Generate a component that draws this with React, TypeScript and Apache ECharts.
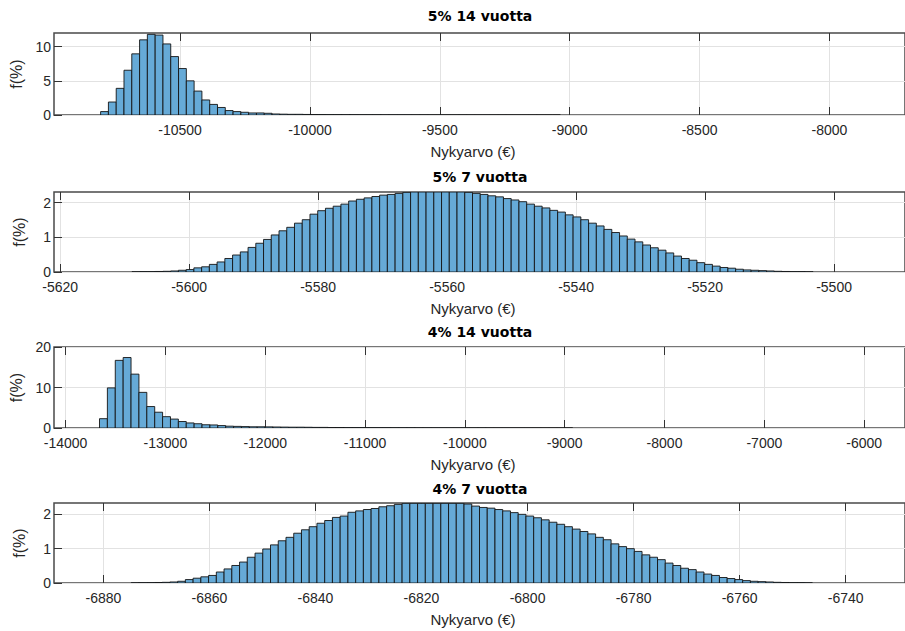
import React, { useEffect, useRef } from "react";
import * as echarts from "echarts";

// ---------- texts ----------
const panelTitles = ["5% 14 vuotta", "5% 7 vuotta", "4% 14 vuotta", "4% 7 vuotta"];
const xAxisName = "Nykyarvo (€)";
const yAxisName = "f(%)";

// ---------- panel 1: 5% 14 vuotta ----------
const p1BinStart = -10806;
const p1BinWidth = 30;
const p1Heights = [
  0.5, 1.9, 3.9, 6.55, 8.95, 11.0, 11.8, 11.7, 10.4, 8.55, 6.8, 5.0, 3.5, 2.2, 1.55, 1.1, 0.65, 0.5, 0.4,
  0.3, 0.3, 0.25, 0.15, 0.12, 0.1, 0.1, 0.08, 0.07, 0.06, 0.05, 0.05, 0.04, 0.04, 0.03, 0.03, 0.03, 0.02,
  0.02, 0.02, 0.02, 0.015, 0.015, 0.01, 0.01, 0.01, 0.01, 0.01, 0.008, 0.008, 0.006, 0.005, 0.005, 0.005,
  0.004, 0.004, 0.003, 0.003, 0.002, 0.002,
];
const p1XTicks = [-10500, -10000, -9500, -9000, -8500, -8000];
const p1YTicks = [0, 5, 10];
const p1XMin = -10985.5;
const p1XMax = -7709;
const p1YMax = 12;

// ---------- panel 2: 5% 7 vuotta ----------
const p2BinStart = -5608.86;
const p2BinWidth = 1.2;
const p2Heights = [
  0.005, 0.01, 0.01, 0.015, 0.02, 0.03, 0.05,
  0.07, 0.12, 0.15, 0.22, 0.29, 0.39, 0.49, 0.58, 0.71, 0.83, 0.94, 1.07, 1.19, 1.29, 1.41, 1.51, 1.67,
  1.77, 1.84, 1.9, 1.96, 2.05, 2.1, 2.14, 2.18, 2.22, 2.24, 2.27, 2.3,
  2.31, 2.31, 2.31, 2.31, 2.31, 2.31, 2.31,
  2.3, 2.27, 2.24, 2.2, 2.17, 2.12, 2.08, 2.03, 1.96, 1.9, 1.85, 1.78, 1.73, 1.65, 1.59, 1.51, 1.41,
  1.33, 1.23, 1.14, 1.04, 0.95, 0.87, 0.78, 0.7, 0.63, 0.55, 0.46, 0.39, 0.34, 0.27, 0.22, 0.17, 0.13,
  0.11, 0.08, 0.06, 0.05, 0.04, 0.03, 0.02, 0.015, 0.01, 0.01, 0.005,
];
const p2XTicks = [-5620, -5600, -5580, -5560, -5540, -5520, -5500];
const p2YTicks = [0, 1, 2];
const p2XMin = -5620.95;
const p2XMax = -5489.0;
const p2YMax = 2.31;

// ---------- panel 3: 4% 14 vuotta ----------
const p3BinStart = -13660;
const p3BinWidth = 79;
const p3Heights = [
  2.3, 9.9, 16.7, 17.4, 13.3, 8.8, 5.3, 3.9, 2.8, 2.2, 1.6, 1.25, 1.05, 0.8, 0.75, 0.6, 0.45, 0.4, 0.35,
  0.3, 0.3, 0.28, 0.25, 0.22, 0.2, 0.2, 0.18, 0.15, 0.15, 0.12, 0.12, 0.1, 0.1, 0.09, 0.08, 0.07, 0.07,
  0.06, 0.05, 0.05, 0.04, 0.04, 0.035, 0.03, 0.03, 0.025, 0.02, 0.02, 0.02, 0.015, 0.015, 0.01, 0.01,
  0.01, 0.01, 0.008, 0.006, 0.005, 0.005, 0.004,
];
const p3XTicks = [-14000, -13000, -12000, -11000, -10000, -9000, -8000, -7000, -6000];
const p3YTicks = [0, 10, 20];
const p3XMin = -14115.8;
const p3XMax = -5591;
const p3YMax = 20;

// ---------- panel 4: 4% 7 vuotta ----------
const p4BinStart = -6874.76;
const p4BinWidth = 1.46;
const p4Heights = [
  0.005, 0.008, 0.01, 0.015, 0.02, 0.03,
  0.05, 0.1, 0.14, 0.18, 0.22, 0.32, 0.41, 0.51, 0.61, 0.75, 0.87, 0.99, 1.11, 1.23, 1.33, 1.45, 1.55,
  1.64, 1.74, 1.82, 1.91, 1.95, 2.06, 2.1, 2.14, 2.17, 2.22, 2.25, 2.29,
  2.32, 2.32, 2.32, 2.32, 2.32, 2.32, 2.32, 2.32,
  2.3, 2.24, 2.2, 2.18, 2.14, 2.1, 2.05, 2.0, 1.95, 1.9, 1.84, 1.77, 1.71, 1.64, 1.57, 1.5, 1.43, 1.33,
  1.26, 1.14, 1.06, 1.0, 0.92, 0.82, 0.75, 0.68, 0.58, 0.51, 0.43, 0.39, 0.32, 0.26, 0.22, 0.16, 0.13,
  0.1, 0.07, 0.05, 0.04, 0.03, 0.02, 0.015, 0.01, 0.01, 0.005,
];
const p4XTicks = [-6880, -6860, -6840, -6820, -6800, -6780, -6760, -6740];
const p4YTicks = [0, 1, 2];
const p4XMin = -6889.32;
const p4XMax = -6728.8;
const p4YMax = 2.33;

// ---------- layout ----------
const gridLeft = 54;
const gridWidth = 861;
const gridTops = [33, 192, 347, 503];
const gridHeights = [82, 80, 81, 80];
const titleCenterX = 480;
const titleTops = [9, 170, 325, 482];

const FONT = "'Liberation Sans', Arial, Helvetica, sans-serif";
const TITLE_FONT = "'DejaVu Sans', 'Liberation Sans', Arial, sans-serif";
const TEXT = "#262626";
const BAR_FILL = "#66AAD7";
const BAR_EDGE = "#141414";

function binsToData(start: number, width: number, heights: number[]) {
  return heights.map((h, i) => [start + i * width, start + (i + 1) * width, h]);
}

const panels = [
  { start: p1BinStart, width: p1BinWidth, heights: p1Heights, xTicks: p1XTicks, yTicks: p1YTicks, xMin: p1XMin, xMax: p1XMax, yMax: p1YMax },
  { start: p2BinStart, width: p2BinWidth, heights: p2Heights, xTicks: p2XTicks, yTicks: p2YTicks, xMin: p2XMin, xMax: p2XMax, yMax: p2YMax },
  { start: p3BinStart, width: p3BinWidth, heights: p3Heights, xTicks: p3XTicks, yTicks: p3YTicks, xMin: p3XMin, xMax: p3XMax, yMax: p3YMax },
  { start: p4BinStart, width: p4BinWidth, heights: p4Heights, xTicks: p4XTicks, yTicks: p4YTicks, xMin: p4XMin, xMax: p4XMax, yMax: p4YMax },
];

function buildOption() {
  const grid: any[] = [];
  const xAxis: any[] = [];
  const yAxis: any[] = [];
  const series: any[] = [];
  const title: any[] = [];
  panels.forEach((p, i) => {
    grid.push({
      left: gridLeft,
      top: gridTops[i],
      width: gridWidth,
      height: gridHeights[i],
      show: true,
      borderColor: "#4a4a4a",
      borderWidth: 1.5,
      backgroundColor: "#ffffff",
      containLabel: false,
    });
    title.push({
      text: panelTitles[i],
      left: titleCenterX,
      top: titleTops[i],
      textAlign: "center",
      padding: 0,
      textStyle: { fontFamily: TITLE_FONT, fontSize: 14, fontWeight: "bold", color: "#000" },
    });
    xAxis.push({
      type: "value",
      gridIndex: i,
      position: "bottom",
      min: p.xMin,
      max: p.xMax,
      axisLine: { show: false },
      axisTick: { show: true, inside: true, length: 8, customValues: p.xTicks, lineStyle: { color: "#333", width: 1 } },
      axisLabel: {
        show: true,
        customValues: p.xTicks,
        formatter: (v: number) => String(v),
        fontFamily: FONT,
        fontSize: 14,
        color: TEXT,
        margin: 8,
      },
      splitLine: { show: true, lineStyle: { color: "#e2e2e2", width: 1 } },
      name: xAxisName,
      nameLocation: "middle",
      nameGap: 29,
      nameTextStyle: { fontFamily: FONT, fontSize: 15, color: TEXT, padding: [0, 13, 0, 0] },
    });
    xAxis.push({
      type: "value",
      gridIndex: i,
      position: "top",
      min: p.xMin,
      max: p.xMax,
      axisLine: { show: false },
      axisTick: { show: true, inside: true, length: 8, customValues: p.xTicks, lineStyle: { color: "#333", width: 1 } },
      axisLabel: { show: false },
      splitLine: { show: false },
    });
    yAxis.push({
      type: "value",
      gridIndex: i,
      min: 0,
      max: p.yMax,
      axisLine: { show: false },
      axisTick: { show: true, inside: true, length: 8, customValues: p.yTicks, lineStyle: { color: "#333", width: 1 } },
      axisLabel: {
        show: true,
        customValues: p.yTicks,
        formatter: (v: number) => String(v),
        fontFamily: FONT,
        fontSize: 14,
        color: TEXT,
        margin: 3,
      },
      splitLine: { show: true, lineStyle: { color: "#e2e2e2", width: 1 } },
      name: yAxisName,
      nameLocation: "middle",
      nameRotate: 90,
      nameGap: 27,
      nameTextStyle: { fontFamily: FONT, fontSize: 16, color: TEXT },
    });
    series.push({
      type: "custom",
      xAxisIndex: i * 2,
      yAxisIndex: i,
      clip: true,
      encode: { x: [0, 1], y: 2 },
      data: binsToData(p.start, p.width, p.heights),
      renderItem: (params: any, api: any) => {
        const a = api.coord([api.value(0), api.value(2)]);
        const b = api.coord([api.value(1), 0]);
        return {
          type: "rect",
          shape: { x: a[0], y: a[1], width: b[0] - a[0], height: b[1] - a[1] },
          style: { fill: BAR_FILL, stroke: BAR_EDGE, lineWidth: 0.9 },
        };
      },
    });
  });
  return { animation: false, backgroundColor: "#ffffff", title, grid, xAxis, yAxis, series };
}

export default function App() {
  const ref = useRef<HTMLDivElement>(null);
  useEffect(() => {
    if (!ref.current) return;
    const chart = echarts.init(ref.current, undefined, { renderer: "svg" });
    chart.setOption(buildOption() as any);
    return () => chart.dispose();
  }, []);
  return (
    <div
      ref={ref}
      style={{ position: "fixed", left: 0, top: 0, width: 905, height: 631, background: "#fff" }}
    />
  );
}
